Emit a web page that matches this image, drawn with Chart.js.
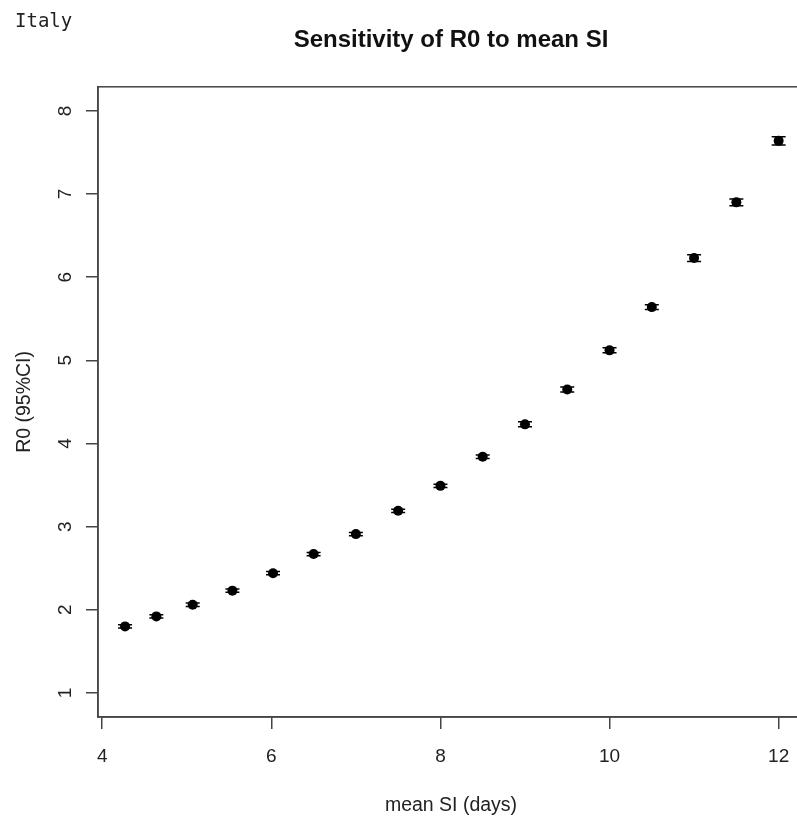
<!DOCTYPE html>
<html>
<head>
<meta charset="utf-8">
<script src="https://cdn.jsdelivr.net/npm/chart.js@4.4.1/dist/chart.umd.min.js"></script>
<style>
    html, body { margin: 0; padding: 0; background: #fff; overflow: hidden; }
    #wrap { position: relative; width: 820px; height: 820px; }
    #country {
        position: absolute; left: 15px; top: 11px;
        font: 19px/19px "DejaVu Sans Mono", monospace; color: #222;
    }
</style>
</head>
<body>
<div id="wrap">
    <canvas id="chart" width="820" height="820"></canvas>
    <div id="country">Italy</div>
</div>
<script>
// mean serial interval (days) and the R0 estimate with its 95% CI
const meanSI = [4.27, 4.64, 5.07, 5.54, 6.02, 6.5, 7, 7.5, 8, 8.5, 9, 9.5, 10, 10.5, 11, 11.5, 12];
const r0 = [1.80, 1.92, 2.06, 2.23, 2.44, 2.67, 2.91, 3.19, 3.49, 3.84, 4.23, 4.65, 5.12, 5.64, 6.23, 6.90, 7.64];
const r0Lower = [1.78, 1.90, 2.04, 2.21, 2.42, 2.65, 2.89, 3.17, 3.47, 3.82, 4.20, 4.62, 5.09, 5.61, 6.19, 6.86, 7.59];
const r0Upper = [1.82, 1.94, 2.08, 2.25, 2.46, 2.69, 2.93, 3.21, 3.51, 3.86, 4.26, 4.68, 5.15, 5.67, 6.27, 6.94, 7.69];

const xTicks = [4, 6, 8, 10, 12];
const yTicks = [1, 2, 3, 4, 5, 6, 7, 8];

const axisColor = '#444';
const textColor = '#222';

// R style: full box round the plot plus CI whiskers with caps
const boxAndWhiskers = {
    id: 'boxAndWhiskers',
    beforeDatasetsDraw(chart) {
        const { ctx, chartArea } = chart;
        ctx.save();
        ctx.strokeStyle = axisColor;
        ctx.lineWidth = 1.5;
        ctx.strokeRect(chartArea.left, chartArea.top, chartArea.right - chartArea.left, chartArea.bottom - chartArea.top);
        ctx.restore();
    },
    afterDatasetsDraw(chart) {
        const { ctx } = chart;
        const xs = chart.scales.x;
        const ys = chart.scales.y;
        ctx.save();
        ctx.strokeStyle = '#000';
        ctx.lineWidth = 1.5;
        meanSI.forEach(function (v, i) {
            const x = xs.getPixelForValue(v);
            const yLo = ys.getPixelForValue(r0Lower[i]);
            const yHi = ys.getPixelForValue(r0Upper[i]);
            ctx.beginPath();
            ctx.moveTo(x, yLo); ctx.lineTo(x, yHi);
            ctx.moveTo(x - 7, yLo); ctx.lineTo(x + 7, yLo);
            ctx.moveTo(x - 7, yHi); ctx.lineTo(x + 7, yHi);
            ctx.stroke();
        });
        ctx.restore();
    }
};

new Chart(document.getElementById('chart'), {
    type: 'scatter',
    data: {
        datasets: [{
            data: meanSI.map((v, i) => ({ x: v, y: r0[i] })),
            pointRadius: 5,
            pointHoverRadius: 5,
            backgroundColor: '#000',
            borderColor: '#000',
            borderWidth: 0
        }]
    },
    options: {
        responsive: false,
        animation: false,
        layout: { padding: { top: 0, left: 0, right: 16, bottom: 0 } },
        plugins: {
            legend: { display: false },
            tooltip: { enabled: false },
            title: {
                display: true,
                text: 'Sensitivity of R0 to mean SI',
                fullSize: false,
                color: '#111',
                font: { family: '"Liberation Sans", Arial, sans-serif', size: 24, weight: 'bold' },
                padding: { top: 26, bottom: 32 }
            }
        },
        scales: {
            x: {
                type: 'linear',
                min: 3.95,
                max: 12.3,
                afterBuildTicks: (scale) => { scale.ticks = xTicks.map(v => ({ value: v })); },
                afterFit: (scale) => { scale.height = 103; },
                grid: { drawOnChartArea: false, drawTicks: true, tickLength: 12, color: axisColor, lineWidth: 1.5 },
                border: { display: true, color: axisColor, width: 1.5 },
                ticks: {
                    autoSkip: false,
                    color: textColor,
                    padding: 16,
                    font: { family: '"Liberation Sans", Arial, sans-serif', size: 19 }
                },
                title: {
                    display: true,
                    text: 'mean SI (days)',
                    color: textColor,
                    font: { family: '"Liberation Sans", Arial, sans-serif', size: 19.5 },
                    padding: { top: 0, bottom: 3 }
                }
            },
            y: {
                type: 'linear',
                min: 0.71,
                max: 8.29,
                afterBuildTicks: (scale) => { scale.ticks = yTicks.map(v => ({ value: v })); },
                afterFit: (scale) => { scale.width = 98; },
                grid: { drawOnChartArea: false, drawTicks: true, tickLength: 12, color: axisColor, lineWidth: 1.5 },
                border: { display: true, color: axisColor, width: 1.5 },
                ticks: {
                    autoSkip: false,
                    minRotation: 90,
                    maxRotation: 90,
                    crossAlign: 'center',
                    color: textColor,
                    padding: 15,
                    font: { family: '"Liberation Sans", Arial, sans-serif', size: 19 }
                },
                title: {
                    display: true,
                    text: 'R0 (95%CI)',
                    color: textColor,
                    font: { family: '"Liberation Sans", Arial, sans-serif', size: 19.5 },
                    padding: { top: 13, bottom: 0 }
                }
            }
        }
    },
    plugins: [boxAndWhiskers]
});
</script>
</body>
</html>
